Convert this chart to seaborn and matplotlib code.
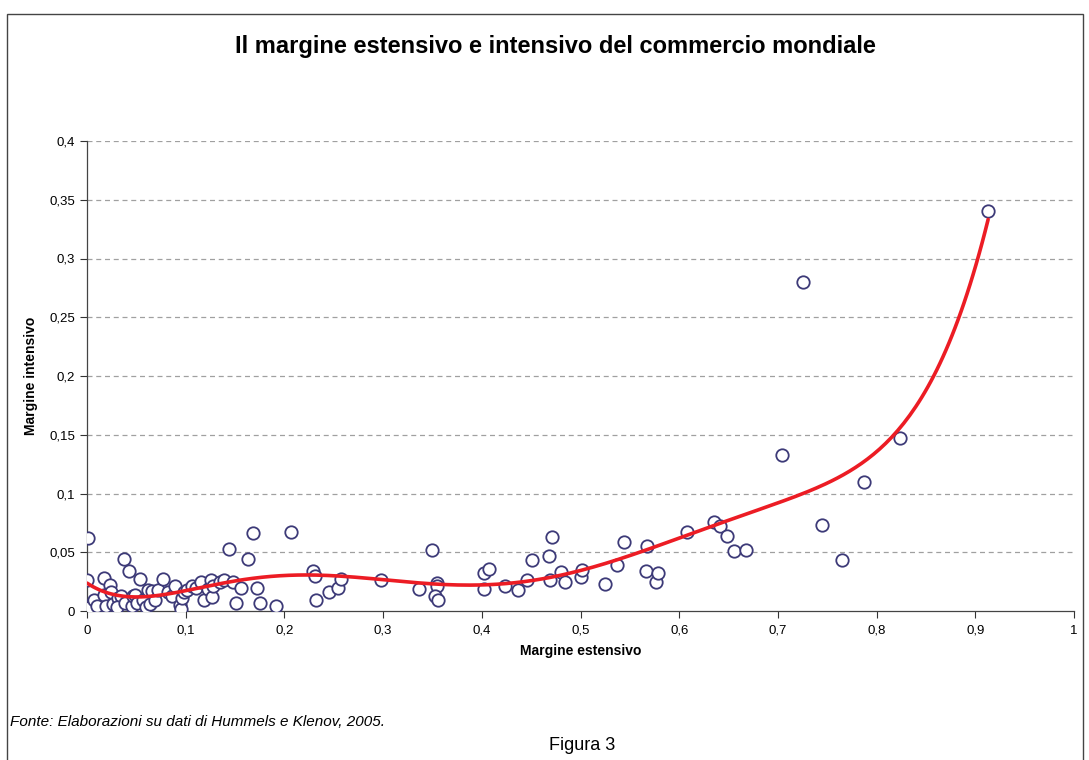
import numpy as np
import pandas as pd
import matplotlib
matplotlib.use("Agg")
import matplotlib.pyplot as plt
from matplotlib.patches import Rectangle
from matplotlib.ticker import FuncFormatter
import seaborn as sns

# Points (margine estensivo, margine intensivo)
margine_estensivo = [
    0.001, 0.0, 0.005, 0.003, 0.007, 0.01, 0.017, 0.023, 0.017, 0.024,
    0.019, 0.026, 0.031, 0.034, 0.03, 0.037, 0.043, 0.039, 0.046, 0.047,
    0.049, 0.051, 0.054, 0.057, 0.06, 0.062, 0.064, 0.066, 0.069, 0.072,
    0.077, 0.082, 0.086, 0.089, 0.094, 0.095, 0.096, 0.098, 0.101, 0.106,
    0.11, 0.116, 0.119, 0.123, 0.126, 0.127, 0.128, 0.135, 0.139, 0.144,
    0.148, 0.151, 0.156, 0.163, 0.168, 0.172, 0.175, 0.191, 0.207, 0.229,
    0.231, 0.232, 0.245, 0.254, 0.257, 0.298, 0.336, 0.35, 0.355, 0.355,
    0.353, 0.356, 0.402, 0.407, 0.402, 0.424, 0.437, 0.446, 0.451, 0.468,
    0.471, 0.469, 0.48, 0.484, 0.5, 0.502, 0.525, 0.537, 0.544, 0.566,
    0.567, 0.576, 0.579, 0.608, 0.635, 0.641, 0.648, 0.656, 0.668, 0.704,
    0.725, 0.745, 0.765, 0.787, 0.824, 0.913,
]
margine_intensivo = [
    0.062, 0.026, 0.006, 0.003, 0.009, 0.004, 0.028, 0.022, 0.014, 0.016,
    0.004, 0.006, 0.011, 0.013, 0.003, 0.044, 0.034, 0.007, 0.004, 0.013,
    0.014, 0.007, 0.027, 0.009, 0.003, 0.018, 0.006, 0.017, 0.009, 0.018,
    0.027, 0.016, 0.013, 0.021, 0.005, 0.002, 0.011, 0.016, 0.018, 0.021,
    0.02, 0.025, 0.009, 0.019, 0.026, 0.012, 0.021, 0.025, 0.026, 0.053,
    0.025, 0.007, 0.02, 0.044, 0.066, 0.02, 0.007, 0.004, 0.067, 0.034,
    0.03, 0.009, 0.016, 0.02, 0.027, 0.026, 0.019, 0.052, 0.024, 0.021,
    0.013, 0.009, 0.032, 0.036, 0.019, 0.021, 0.018, 0.026, 0.043, 0.047,
    0.063, 0.026, 0.033, 0.025, 0.029, 0.035, 0.023, 0.039, 0.059, 0.034,
    0.055, 0.025, 0.032, 0.067, 0.076, 0.072, 0.064, 0.051, 0.052, 0.133,
    0.28, 0.073, 0.043, 0.11, 0.147, 0.34,
]

x_ticks = [0, 0.1, 0.2, 0.3, 0.4, 0.5, 0.6, 0.7, 0.8, 0.9, 1.0]
y_ticks = [0, 0.05, 0.1, 0.15, 0.2, 0.25, 0.3, 0.35, 0.4]

df = pd.DataFrame({"est": margine_estensivo, "int": margine_intensivo})

# polynomial trend line like the spreadsheet one
coef = np.polyfit(df["est"], df["int"], 6)
trend = pd.DataFrame({"est": np.linspace(0, df["est"].max(), 300)})
trend["int"] = np.polyval(coef, trend["est"])

sns.set_style("white")
plt.rcParams["font.family"] = ["Liberation Sans", "DejaVu Sans"]
plt.rcParams["text.color"] = "black"
plt.rcParams["axes.labelcolor"] = "black"
plt.rcParams["xtick.color"] = "black"
plt.rcParams["ytick.color"] = "black"

fig = plt.figure(figsize=(10.89, 7.6), dpi=100)
ax = fig.add_axes([87 / 1089, 1 - 611 / 760, (1074 - 87) / 1089, (611 - 141) / 760])

for t in y_ticks[1:]:
    ax.axhline(t, color="#a0a0a0", lw=0.9, ls=(0, (4, 3)), zorder=0)

sns.scatterplot(data=df, x="est", y="int", ax=ax, s=80, marker="o",
                facecolor="white", edgecolor="#3d3a78", linewidth=1.3, zorder=3)
sns.lineplot(data=trend, x="est", y="int", ax=ax, color="#ec1c24", lw=2.6, zorder=4)

ax.set_xlim(0, 1)
ax.set_ylim(0, 0.4)
ax.set_xticks(x_ticks)
ax.set_yticks(y_ticks)
fmt = FuncFormatter(lambda v, p: ("%g" % v).replace(".", ","))
ax.xaxis.set_major_formatter(fmt)
ax.yaxis.set_major_formatter(fmt)
ax.tick_params(axis="both", labelsize=9.5, length=5, width=0.8, color="#333333",
               direction="out", bottom=True, left=True)
ax.tick_params(axis="x", pad=5)

for side in ["top", "right"]:
    ax.spines[side].set_visible(False)
for side in ["left", "bottom"]:
    ax.spines[side].set_color("#444444")
    ax.spines[side].set_linewidth(0.9)

ax.set_xlabel("Margine estensivo", fontsize=10, fontweight="bold", labelpad=5)
ax.set_ylabel("Margine intensivo", fontsize=10, fontweight="bold", labelpad=8)

fig.text(555 / 1089, 1 - 47 / 760, "Il margine estensivo e intensivo del commercio mondiale",
         ha="center", va="center", fontsize=17, fontweight="bold")
fig.text(10 / 1089, 1 - 722 / 760, "Fonte: Elaborazioni su dati di Hummels e Klenov, 2005.",
         ha="left", va="center", fontsize=11, style="italic")
fig.text(582 / 1089, 1 - 745 / 760, "Figura 3", ha="center", va="center", fontsize=13)

fig.patches.append(Rectangle((7 / 1089, -0.05), (1083 - 7) / 1089, 0.05 + 1 - 14 / 760,
                             transform=fig.transFigure, fill=False,
                             edgecolor="#444444", lw=1.0))

fig.savefig("out.png", dpi=100)
